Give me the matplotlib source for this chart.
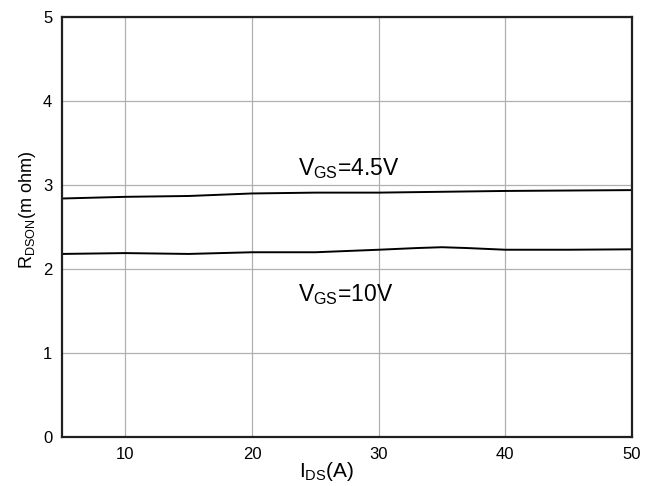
import numpy as np
import matplotlib.pyplot as plt

plt.rcParams.update({"font.family": "Liberation Sans"})
plt.rcParams.update({"mathtext.fontset": "custom"})
plt.rcParams.update({"mathtext.rm": "Liberation Sans"})
plt.rcParams.update({"mathtext.it": "Liberation Sans"})

# I_DS (A) vs R_DSON (m ohm)
ids_45 = [5, 10, 15, 20, 25, 30, 35, 40, 45, 50]
r_45 = [2.84, 2.86, 2.87, 2.90, 2.91, 2.91, 2.92, 2.93, 2.935, 2.94]

ids_10 = [5, 10, 15, 20, 25, 30, 33, 35, 37, 40, 45, 50]
r_10 = [2.18, 2.19, 2.18, 2.20, 2.20, 2.23, 2.25, 2.26, 2.25, 2.23, 2.23, 2.235]

xticks = [10, 20, 30, 40, 50]
yticks = [0, 1, 2, 3, 4, 5]

fig = plt.figure(figsize=(6.58, 4.86), dpi=100)
ax = fig.add_axes([0.0942, 0.1008, 0.8663, 0.864])

ax.plot(ids_45, r_45, color="k", lw=1.4)
ax.plot(ids_10, r_10, color="k", lw=1.4)

ax.set_xlim(5, 50)
ax.set_ylim(0, 5)
ax.set_xticks(xticks)
ax.set_yticks(yticks)
ax.grid(True, color="#b0b0b0", lw=0.9)
ax.tick_params(length=0, labelsize=12, pad=7)
for s in ax.spines.values():
    s.set_linewidth(1.6)
    s.set_color("#202020")

ax.text(23.6, 3.12, r"V$\mathregular{_{GS}}$=4.5V", fontsize=16.5, ha="left", va="baseline")
ax.text(23.6, 1.62, r"V$\mathregular{_{GS}}$=10V", fontsize=16.5, ha="left", va="baseline")

ax.set_xlabel(r"I$\mathregular{_{DS}}$(A)", fontsize=15)
ax.set_ylabel(r"R$\mathregular{_{DSON}}$(m ohm)", fontsize=13)
ax.xaxis.set_label_coords(0.465, -0.055)
ax.yaxis.set_label_coords(-0.042, 0.54)

fig.savefig("out.png", dpi=100)
